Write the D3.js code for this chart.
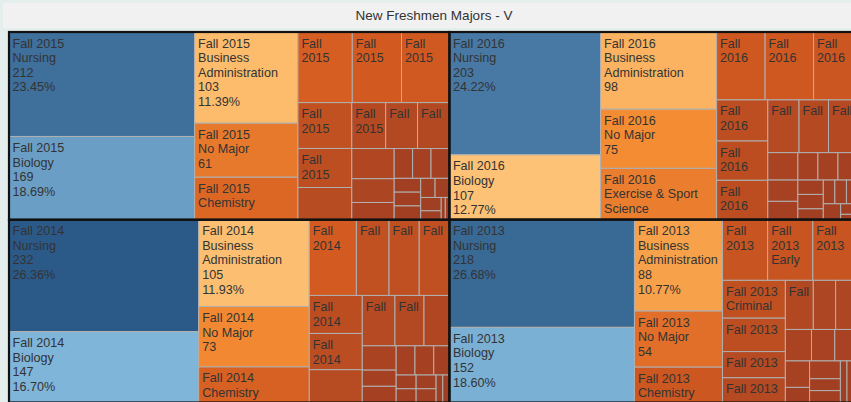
<!DOCTYPE html>
<html>
<head>
<meta charset="utf-8">
<script src="https://cdn.jsdelivr.net/npm/d3@7"></script>
<style>
  html, body { margin: 0; padding: 0; background: #e4eeec; }
  svg { display: block; }
</style>
</head>
<body>
<svg id="chart" width="851" height="402"></svg>
<script>
// ---------------- DATA ----------------
const chartTitle = "New Freshmen Majors - V";
const terms = ["Fall 2015", "Fall 2014", "Fall 2016", "Fall 2013"];

const counts2015 = [212,169,103,61,48,42,38,37,27,23,19,17,16,16,14,11,8,6,6,6,4,4,4,3,3,3,2,1,1];
const majors2015 = ["Nursing","Biology","Business Administration","No Major","Chemistry"];

const counts2016 = [203,107,98,75,65,36,36,33,23,22,22,18,17,17,9,7,6,6,6,6,4,4,3,3,3,3,3,2,1];
const majors2016 = ["Nursing","Biology","Business Administration","No Major","Exercise & Sport Science"];

const counts2014 = [232,147,105,73,43,39,27,25,25,22,21,19,18,16,14,9,6,6,6,6,5,3,3,3,3,2,2];
const majors2014 = ["Nursing","Biology","Business Administration","No Major","Chemistry"];

const counts2013 = [218,152,88,54,34,30,30,30,26,23,18,17,15,12,12,9,8,8,7,4,6,4,4,3,3,2];
const majors2013 = ["Nursing","Biology","Business Administration","No Major","Chemistry","","Early Childhood Education","","Criminal Justice"];

const seriesByTerm = {
  "Fall 2015": {counts: counts2015, majors: majors2015},
  "Fall 2016": {counts: counts2016, majors: majors2016},
  "Fall 2014": {counts: counts2014, majors: majors2014},
  "Fall 2013": {counts: counts2013, majors: majors2013}
};

// ---------------- LAYOUT CONFIG ----------------
// number of items laid out in each successive squarified strip
const stripSizes = {
  "root": [2, 2],
  "Fall 2015": [2,3,3,3,3,3,3,3,2,2,2],
  "Fall 2016": [2,3,3,3,3,3,3,3,3,1,2],
  "Fall 2014": [2,3,4,3,3,3,3,2,2,2],
  "Fall 2013": [2,3,3,4,3,3,2,3,3]
};

const W = 851, H = 402;
const tmX = 9, tmY = 32, tmW = 849, tmH = 370.5;
const FONT = "'Liberation Sans', Arial, sans-serif";
const FS = 12.6, LH = 14.6, PADTOP = 5, PADX = 5.5;

const svg = d3.select("#chart");

// background
svg.append("rect").attr("width", W).attr("height", H).attr("fill", "#e4eeec");
// title band
svg.append("rect").attr("x", 3).attr("y", 3).attr("width", 860).attr("height", 25).attr("fill", "#f1f1f1");
svg.append("text").attr("x", 434).attr("y", 19.5).attr("text-anchor", "middle")
  .attr("font-family", FONT).attr("font-size", 13.5).attr("fill", "#333")
  .text(chartTitle);

// hierarchy
const rootData = {
  name: "root",
  children: terms.map(t => ({
    name: t,
    children: seriesByTerm[t].counts.map((c, j) => ({
      term: t, major: seriesByTerm[t].majors[j] || "", count: c
    }))
  }))
};

const root = d3.hierarchy(rootData).sum(d => d.children ? 0 : d.count);

function stripTile(node, x0, y0, x1, y1) {
  const spec = stripSizes[node.data.name];
  const kids = node.children;
  if (!spec) { d3.treemapSquarify(node, x0, y0, x1, y1); return; }
  let value = node.value, i = 0;
  for (const k of spec) {
    const slice = kids.slice(i, i + k);
    const sum = d3.sum(slice, d => d.value);
    const row = {children: slice, value: sum};
    const last = i + k >= kids.length;
    const dx = x1 - x0, dy = y1 - y0;
    if (dx < dy + 1.5) {
      const yy = last ? y1 : y0 + dy * sum / value;
      d3.treemapDice(row, x0, y0, x1, yy);
      y0 = yy;
    } else {
      const xx = last ? x1 : x0 + dx * sum / value;
      d3.treemapSlice(row, x0, y0, xx, y1);
      x0 = xx;
    }
    value -= sum; i += k;
  }
}

d3.treemap().tile(stripTile).size([tmW, tmH]).round(false)(root);

// colour: diverging orange-blue
const color = d3.scaleLinear()
  .domain([1, 39.5, 78, 116.5, 116.6, 232])
  .range(["#9e3d22", "#d45b21", "#f69035", "#ffd38a", "#9ed6f7", "#2b5a88"])
  .interpolate(d3.interpolateRgb)
  .clamp(true);

const g = svg.append("g").attr("transform", `translate(${tmX},${tmY})`);

const leaves = root.leaves();
g.selectAll("rect.cell").data(leaves).join("rect")
  .attr("class", "cell")
  .attr("x", d => d.x0).attr("y", d => d.y0)
  .attr("width", d => d.x1 - d.x0).attr("height", d => d.y1 - d.y0)
  .attr("fill", d => color(d.value))
  .attr("stroke", "#b0b0b0").attr("stroke-width", 1);

// labels
const ctx = document.createElement("canvas").getContext("2d");
ctx.font = `${FS}px ${FONT}`;
const tw = s => ctx.measureText(s).width;

function labelLines(d) {
  const w = d.x1 - d.x0 - PADX, h = d.y1 - d.y0;
  const total = d.parent.value;
  const fields = [d.data.term];
  if (d.data.major) {
    fields.push(d.data.major, String(d.data.count), (d.data.count / total * 100).toFixed(2) + "%");
  }
  const lines = [];
  fields.forEach((f, fi) => {
    let cur = "";
    f.split(" ").forEach(word => {
      const cand = cur ? cur + " " + word : word;
      if (tw(cand) <= w) { cur = cand; }
      else {
        if (cur) lines.push({text: cur, over: false, field: fi});
        if (tw(word) > w) { lines.push({text: word, over: true, field: fi}); cur = ""; }
        else cur = word;
      }
    });
    if (cur) lines.push({text: cur, over: false, field: fi});
  });
  const firstCount = lines.filter(l => l.field === 0).length;
  if (firstCount * LH + PADTOP > h) return [];
  const out = [];
  for (let i = 0; i < lines.length; i++) {
    if ((i + 1) * LH + PADTOP > h) break;
    if (lines[i].over) break;
    out.push(lines[i].text);
  }
  return out;
}

const lab = g.selectAll("text.lab").data(leaves).join("text")
  .attr("class", "lab")
  .attr("font-family", FONT).attr("font-size", FS).attr("fill", "#333");
lab.each(function(d) {
  const ls = labelLines(d);
  d3.select(this).selectAll("tspan").data(ls).join("tspan")
    .attr("x", d.x0 + 3.5)
    .attr("y", (s, i) => d.y0 + 15.5 + i * LH)
    .text(s => s);
});

// group borders
g.selectAll("rect.grp").data(root.children).join("rect")
  .attr("class", "grp")
  .attr("x", d => d.x0).attr("y", d => d.y0)
  .attr("width", d => d.x1 - d.x0).attr("height", d => d.y1 - d.y0)
  .attr("fill", "none").attr("stroke", "#111").attr("stroke-width", 2.2);
</script>
</body>
</html>
